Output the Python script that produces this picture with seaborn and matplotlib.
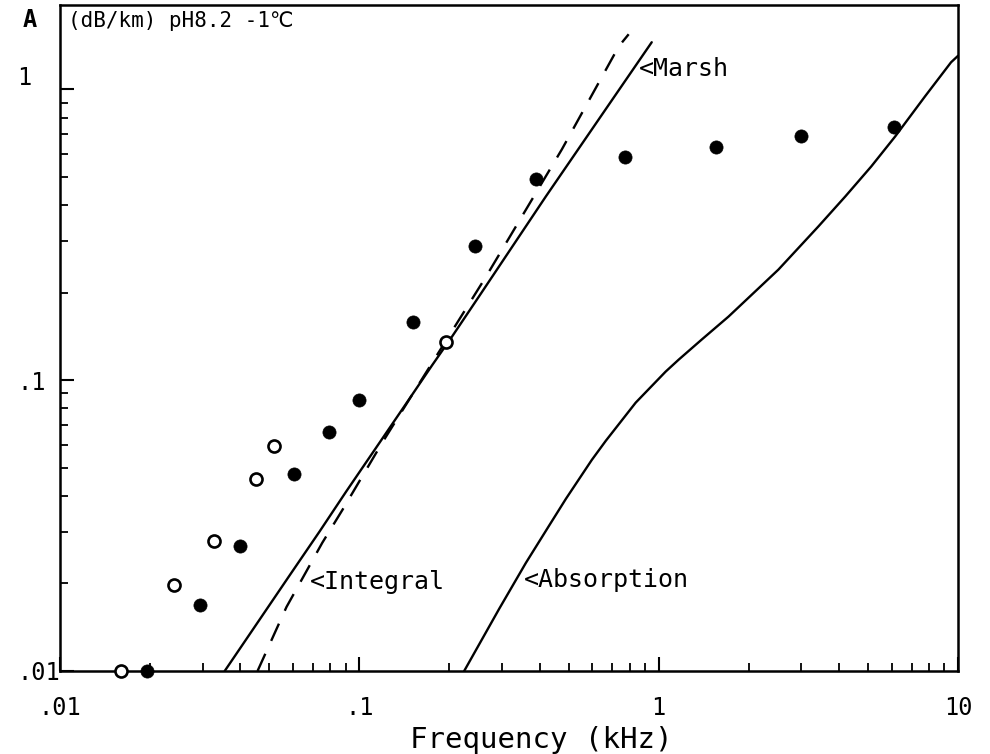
import matplotlib
matplotlib.use("Agg")
import matplotlib.pyplot as plt
import matplotlib.ticker as mticker
import matplotlib.transforms as mtransforms
import seaborn as sns

# ---- data ----
filled_f = [0.0196, 0.0293, 0.0398, 0.0604, 0.0794, 0.100, 0.151, 0.244, 0.39, 0.77, 1.55, 3.0, 6.1]
filled_a = [0.0100, 0.0169, 0.0269, 0.0477, 0.0665, 0.0857, 0.158, 0.290, 0.49, 0.583, 0.636, 0.689, 0.740]

open_f = [0.0160, 0.0240, 0.0326, 0.0450, 0.0520, 0.195]
open_a = [0.0100, 0.0198, 0.0280, 0.0458, 0.0595, 0.135]

integral_f = [0.0355, 0.0475, 0.0584, 0.0736, 0.0905, 0.1166, 0.1435, 0.175, 0.204,
              0.251, 0.420, 0.697, 0.948]
integral_a = [0.0100, 0.01555, 0.02127, 0.03015, 0.0415, 0.0608, 0.0832, 0.1125, 0.1412,
              0.194, 0.4285, 0.916, 1.452]

marsh_f = [0.0457, 0.0571, 0.0752, 0.0878, 0.1193, 0.265, 0.475, 0.736, 0.794]
marsh_a = [0.0100, 0.0166, 0.0276, 0.0358, 0.0610, 0.227, 0.622, 1.406, 1.547]

absorp_f = [0.224, 0.293, 0.360, 0.430, 0.490, 0.598, 0.666, 0.838, 1.055, 1.166, 1.391,
            1.711, 2.512, 3.415, 4.20, 5.13, 6.17, 7.76, 9.48, 10.0]
absorp_a = [0.0100, 0.01634, 0.02353, 0.03155, 0.0391, 0.0532, 0.0619, 0.0837, 0.107, 0.1176,
            0.1378, 0.1654, 0.240, 0.3376, 0.428, 0.543, 0.689, 0.946, 1.239, 1.304]

xticks = [0.01, 0.1, 1, 10]
xticklabels = [".01", ".1", "1", "10"]
yticks = [0.01, 0.1, 1]
yticklabels = [".01", ".1", "1"]

# ---- style ----
sns.set_style("white")
FONT = ["DejaVu Sans Mono", "DejaVu Sans"]
plt.rcParams["font.family"] = FONT
for key in ("text.color", "axes.labelcolor", "xtick.color", "ytick.color", "axes.edgecolor"):
    plt.rcParams[key] = "black"

fig = plt.figure(figsize=(9.9, 7.54), dpi=100)
ax = fig.add_axes([60 / 990, 1 - 671 / 754, (958 - 60) / 990, (671 - 5) / 754])

lw = 1.7
sns.lineplot(x=integral_f, y=integral_a, ax=ax, color="black", lw=lw, sort=False,
             estimator=None)
sns.lineplot(x=marsh_f, y=marsh_a, ax=ax, color="black", lw=lw, sort=False,
             estimator=None)
ax.lines[-1].set_dashes([8, 6])
sns.lineplot(x=absorp_f, y=absorp_a, ax=ax, color="black", lw=lw, sort=False,
             estimator=None)

sns.scatterplot(x=filled_f, y=filled_a, ax=ax, marker="o", s=90, color="black",
                edgecolor="black", linewidth=0.5, clip_on=False, zorder=5)
sns.scatterplot(x=open_f, y=open_a, ax=ax, marker="o", s=75, facecolor="white",
                edgecolor="black", linewidth=1.9, clip_on=False, zorder=5)

ax.set_xscale("log")
ax.set_yscale("log")
ax.set_xlim(0.01, 10)
ax.set_ylim(0.01, 1.95)

ax.set_xticks(xticks)
ax.set_xticklabels(xticklabels, fontsize=17)
ax.set_yticks(yticks)
ax.set_yticklabels(yticklabels, fontsize=17, ha="left")
ax.xaxis.set_minor_locator(mticker.LogLocator(base=10, subs=range(2, 10)))
ax.yaxis.set_minor_locator(mticker.LogLocator(base=10, subs=range(2, 10)))
ax.xaxis.set_minor_formatter(mticker.NullFormatter())
ax.yaxis.set_minor_formatter(mticker.NullFormatter())

ax.tick_params(which="major", direction="in", length=10, width=1.5, color="black",
               bottom=True, left=True, top=False, right=False)
ax.tick_params(which="minor", direction="in", length=6, width=1.3, color="black",
               bottom=True, left=True, top=False, right=False)
ax.tick_params(axis="x", pad=18)
ax.tick_params(axis="y", pad=31)

# the "1" label sits a little above its tick in the reference
for lab in ax.get_yticklabels():
    if lab.get_text() == "1":
        lab.set_transform(lab.get_transform() +
                          mtransforms.ScaledTranslation(0, 14 / 100, fig.dpi_scale_trans))

for sp in ax.spines.values():
    sp.set_color("black")
    sp.set_linewidth(1.8)

ax.set_xlabel("Frequency (kHz)", fontsize=21, labelpad=4)
ax.xaxis.label.set_x((541 - 60) / 898)
ax.set_ylabel("")

# annotations
ax.text(0.0681, 0.0203, "<Integral", fontsize=18, va="center", ha="left")
ax.text(0.355, 0.0206, "<Absorption", fontsize=18, va="center", ha="left")
ax.text(0.858, 1.172, "<Marsh", fontsize=18, va="center", ha="left")

fig.text(30 / 990, 1 - 20 / 754, "A", fontsize=17, fontweight="bold",
         va="center", ha="center")
ax.text(0.01063, 1.72, "(dB/km) pH8.2 -1℃", fontsize=15, va="center", ha="left")

fig.savefig("out.png", dpi=100, facecolor="white")
